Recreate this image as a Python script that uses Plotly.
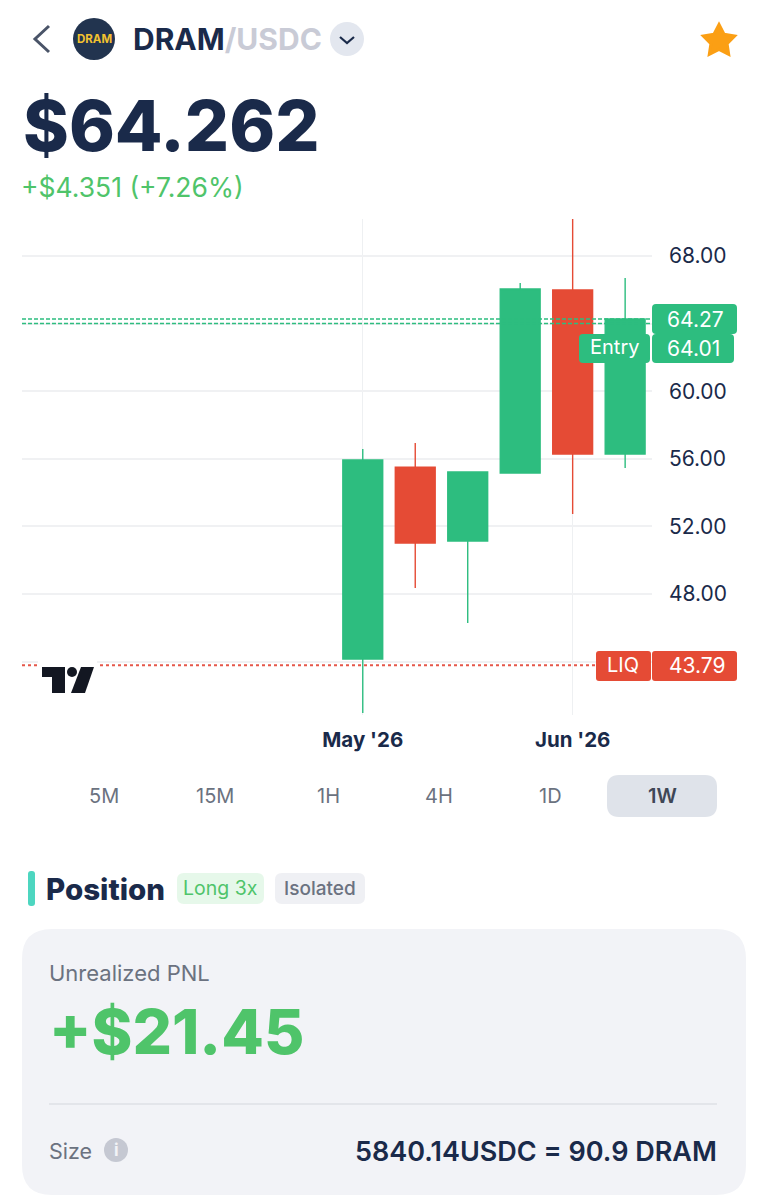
"""DRAM/USDC position screen rebuilt with plotly."""
import math
import plotly.graph_objects as go

W, H = 767, 1200
FONT = 'Inter'

NAVY = '#1a2a4a'
GREY = '#6b7280'
LIGHT_GREEN = '#4fc46a'
CANDLE_GREEN = '#2dbd7f'
CANDLE_RED = '#e54b35'

# weekly candles
dates = ['2026-05-04', '2026-05-11', '2026-05-18', '2026-05-25', '2026-06-01', '2026-06-08']
opens = [44.15, 55.51, 51.14, 55.16, 65.99, 56.28]
highs = [56.58, 56.93, 55.22, 66.40, 70.19, 66.70]
lows = [40.96, 48.35, 46.28, 55.16, 52.73, 55.46]
closes = [55.93, 51.02, 55.22, 66.05, 56.28, 64.27]

price_ticks = [44, 48, 52, 56, 60, 64, 68]
price_labels = ['', '48.00', '52.00', '56.00', '60.00', '', '68.00']
date_ticks = ['2026-05-04', '2026-06-01']
date_labels = ["May '26", "Jun '26"]

mark_price = 64.27
entry_price = 64.01
liq_price = 43.79

periods = ['5M', '15M', '1H', '4H', '1D', '1W']
period_x = [104, 215, 328, 439, 550, 662]


def sx(x):
    return x / W


def sy(y):
    return 1 - y / H


def rounded(x0, y0, x1, y1, r):
    """Rounded rectangle as a paper-coordinate svg path, given in pixels."""
    pts = [('M', x0 + r, y0), ('L', x1 - r, y0), ('Q', x1, y0, x1, y0 + r),
           ('L', x1, y1 - r), ('Q', x1, y1, x1 - r, y1), ('L', x0 + r, y1),
           ('Q', x0, y1, x0, y1 - r), ('L', x0, y0 + r), ('Q', x0, y0, x0 + r, y0)]
    return polyline(pts) + ' Z'


def polyline(cmds):
    out = []
    for c in cmds:
        coords = c[1:]
        parts = [f'{sx(coords[i]):.5f},{sy(coords[i + 1]):.5f}' for i in range(0, len(coords), 2)]
        out.append(c[0] + ' ' + ' '.join(parts))
    return ' '.join(out)


def box(x0, y0, x1, y1, r, color):
    return dict(type='path', xref='paper', yref='paper', path=rounded(x0, y0, x1, y1, r),
                fillcolor=color, line=dict(width=0), layer='above')


def stroke(cmds, color, width):
    return dict(type='path', xref='paper', yref='paper', path=polyline(cmds),
                line=dict(color=color, width=width), layer='above')


def circle(cx, cy, r, color):
    return dict(type='circle', xref='paper', yref='paper', x0=sx(cx - r), x1=sx(cx + r),
                y0=sy(cy + r), y1=sy(cy - r), fillcolor=color, line=dict(width=0), layer='above')


def price_line(price, x0, x1, color, width=1.6, dash='4px,2px'):
    return dict(type='line', xref='paper', yref='y', x0=sx(x0), x1=sx(x1), y0=price, y1=price,
                line=dict(color=color, width=width, dash=dash), layer='above')


def label(x, y, s, size, color, anchor='left', weight=400):
    return dict(xref='paper', yref='paper', x=sx(x), y=sy(y), text=s, showarrow=False,
                xanchor=anchor, yanchor='middle', borderpad=0, borderwidth=0,
                font=dict(family=FONT, size=size, color=color, weight=weight))


def star_points(cx, cy, outer, inner):
    pts = []
    for i in range(10):
        r = outer if i % 2 == 0 else inner
        a = -math.pi / 2 + i * math.pi / 5
        pts.append((cx + r * math.cos(a), cy + r * math.sin(a)))
    return pts


star = star_points(719, 41, 16.5, 8.5)
star_path = polyline([('M', *star[0])] + [('L', *p) for p in star[1:]]) + ' Z'

shapes = [
    # chart price lines
    price_line(mark_price, 22, 652, CANDLE_GREEN),
    price_line(entry_price, 22, 652, CANDLE_GREEN),
    price_line(liq_price, 22, 596, '#e5574a', 2, '3px,3px'),
    # header
    stroke([('M', 49, 26), ('L', 35, 39), ('L', 49, 52)], '#4a5468', 3),
    circle(94, 39, 21, '#22344f'),
    circle(347, 39, 17, '#e3e7ef'),
    stroke([('M', 340, 37), ('L', 347, 43), ('L', 354, 37)], NAVY, 2.2),
    dict(type='path', xref='paper', yref='paper', path=star_path, fillcolor='#fb9f14',
         line=dict(color='#fb9f14', width=3), layer='above'),
    # order tags
    box(652, 304, 737, 334, 4, CANDLE_GREEN),
    box(652, 334, 734, 363, 4, CANDLE_GREEN),
    box(579, 334, 650, 363, 4, CANDLE_GREEN),
    box(596, 651, 651, 681, 3, CANDLE_RED),
    box(652, 651, 737, 681, 3, CANDLE_RED),
    # tradingview mark, with the white patch it sits on
    box(38, 661, 97, 695, 0, '#ffffff'),
    dict(type='path', xref='paper', yref='paper', fillcolor='#131722', line=dict(width=0), layer='above',
         path=polyline([('M', 42, 667), ('L', 65, 667), ('L', 65, 693), ('L', 52, 693),
                        ('L', 52, 677), ('L', 42, 677)]) + ' Z'),
    circle(72, 672, 5, '#131722'),
    dict(type='path', xref='paper', yref='paper', fillcolor='#131722', line=dict(width=0), layer='above',
         path=polyline([('M', 81, 667), ('L', 94, 667), ('L', 85, 693), ('L', 71, 693)]) + ' Z'),
    # period switcher
    box(607, 775, 717, 817, 12, '#dfe3ea'),
    # position section
    box(28, 871, 35, 906, 3, '#4dd6c0'),
    box(177, 873, 264, 904, 7, '#e6f8ea'),
    box(275, 873, 365, 904, 7, '#eff0f4'),
    box(22, 929, 746, 1195, 30, '#f2f3f7'),
    dict(type='line', xref='paper', yref='paper', x0=sx(49), x1=sx(717), y0=sy(1104), y1=sy(1104),
         line=dict(color='#e3e5ea', width=2), layer='above'),
    circle(116, 1150, 12, '#c5c8d2'),
]

annotations = [
    label(94, 39, 'DRAM', 11.5, '#f2c230', 'center', 700),
    label(132.5, 39, 'DRAM<span style="color:#c9cbd6">/USDC</span>', 30, NAVY, weight=700),
    label(23, 126, '$64.262', 69.5, NAVY, weight=800),
    label(21, 187, '+$4.351 (+7.26%)', 26.5, LIGHT_GREEN),
    label(695, 319, f'{mark_price:.2f}', 21, '#ffffff', 'center'),
    label(693, 349, f'{entry_price:.2f}', 21, '#ffffff', 'center'),
    label(614, 347, 'Entry', 20, '#ffffff', 'center'),
    label(623, 665, 'LIQ', 20, '#ffffff', 'center'),
    label(697, 665, f'{liq_price:.2f}', 21, '#ffffff', 'center'),
    label(46, 889, 'Position', 29.5, NAVY, weight=800),
    label(220.5, 888, 'Long 3x', 19.5, LIGHT_GREEN, 'center'),
    label(320, 888, 'Isolated', 19, GREY, 'center', 500),
    label(49, 973, 'Unrealized PNL', 22, GREY),
    label(49, 1031, '+$21.45', 62, LIGHT_GREEN, weight=800),
    label(49, 1151, 'Size', 21.5, GREY),
    label(116, 1150, 'i', 17, '#f2f3f7', 'center', 700),
    label(717, 1151, '5840.14USDC = 90.9 DRAM', 27, NAVY, 'right', 600),
]
for name, x in zip(periods, period_x):
    active = name == '1W'
    annotations.append(label(x, 796, name, 20, '#3f4756' if active else GREY, 'center', 600 if active else 400))

fig = go.Figure(go.Candlestick(
    x=dates, open=opens, high=highs, low=lows, close=closes,
    increasing=dict(line=dict(color=CANDLE_GREEN, width=1.4), fillcolor=CANDLE_GREEN),
    decreasing=dict(line=dict(color=CANDLE_RED, width=1.4), fillcolor=CANDLE_RED),
    showlegend=False, hoverinfo='skip',
))

fig.update_layout(
    width=W, height=H, margin=dict(l=0, r=0, t=0, b=0, pad=0),
    paper_bgcolor='#ffffff', plot_bgcolor='#ffffff',
    boxgap=0.24, boxgroupgap=0, showlegend=False, dragmode=False,
    shapes=shapes, annotations=annotations,
    font=dict(family=FONT),
)
fig.update_xaxes(
    domain=[sx(22), sx(652)], range=['2026-03-19 13:00', '2026-06-11 14:00'],
    rangeslider_visible=False, tickmode='array', tickvals=date_ticks, ticktext=date_labels,
    showgrid=True, gridcolor='#eef0f2', gridwidth=1, zeroline=False, showline=False, ticks='',
    tickfont=dict(family=FONT, size=20.5, color=NAVY, weight=700), ticklabelstandoff=10,
)
fig.update_yaxes(
    domain=[sy(715), sy(219)], range=[40.84, 70.19], side='right',
    tickmode='array', tickvals=price_ticks, ticktext=price_labels,
    showgrid=True, gridcolor='#f0f1f3', gridwidth=1.5, zeroline=False, showline=False, ticks='',
    tickfont=dict(family=FONT, size=21, color=NAVY), ticklabelstandoff=16,
)

fig.write_html('out.html', config={'displayModeBar': False},
               post_script="document.body.style.margin='0';document.body.style.overflow='hidden';")
